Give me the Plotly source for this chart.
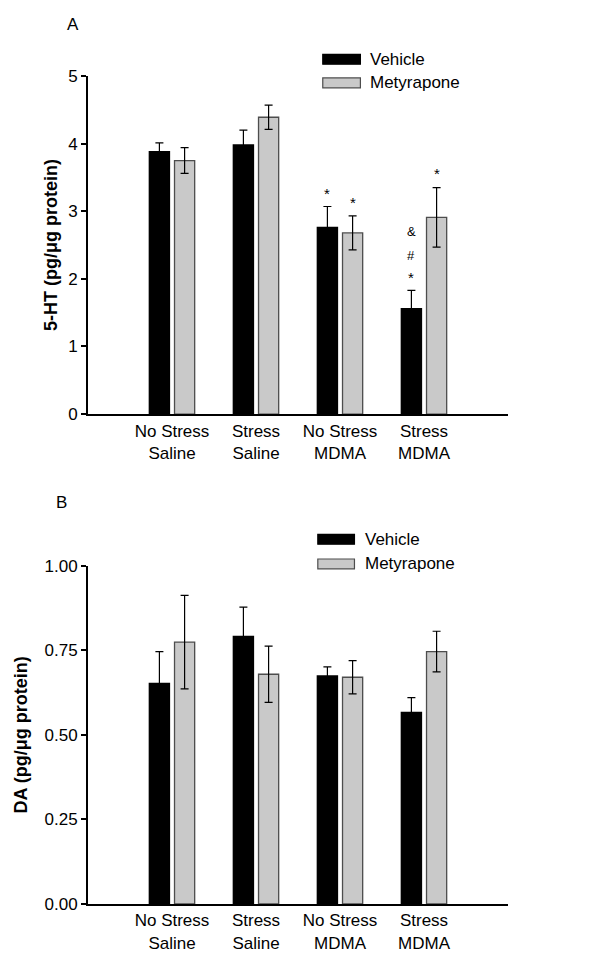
import plotly.graph_objects as go

# ---------------- data ----------------
categories = ["No Stress<br>Saline", "Stress<br>Saline", "No Stress<br>MDMA", "Stress<br>MDMA"]
series_names = ["Vehicle", "Metyrapone"]

ht_vehicle = [3.88, 3.98, 2.76, 1.56]
ht_vehicle_err = [0.13, 0.22, 0.31, 0.27]
ht_metyrapone = [3.75, 4.39, 2.68, 2.91]
ht_metyrapone_err = [0.19, 0.18, 0.25, 0.44]

da_vehicle = [0.652, 0.791, 0.674, 0.566]
da_vehicle_err = [0.094, 0.086, 0.027, 0.044]
da_metyrapone = [0.774, 0.679, 0.670, 0.746]
da_metyrapone_err = [0.138, 0.083, 0.049, 0.060]

ht_ticks = [0, 1, 2, 3, 4, 5]
da_ticks = [0.0, 0.25, 0.5, 0.75, 1.0]

# significance marks: (category index, series, text, y value)
ht_marks = [
    (2, 0, "*", 3.31),
    (2, 1, "*", 3.18),
    (3, 0, "&", 2.70),
    (3, 0, "#", 2.35),
    (3, 0, "*", 2.07),
    (3, 1, "*", 3.60),
]

# ---------------- style ----------------
FONT = "Arial, Liberation Sans, sans-serif"
OFF = 8  # default page body margin
W, H = 604 - 2 * OFF, 973 - 2 * OFF
# targets in page pixels
LEFT, RIGHT, TOP, BOTTOM = 84, 508, 76, 916
ML, MR, MT, MB = LEFT - OFF, (W + OFF) - RIGHT, TOP - OFF, (H + OFF) - BOTTOM
BAR_W = 0.24
OFFSETS = [-0.27, 0.03]
COLORS = ["#000000", "#c9c9c9"]
LINECOLORS = ["#000000", "#4d4d4d"]

xpos = list(range(len(categories)))

fig = go.Figure()


def add_bars(vals_list, errs_list, xa, ya):
    for k, (vals, errs) in enumerate(zip(vals_list, errs_list)):
        fig.add_trace(go.Bar(
            x=xpos, y=vals, name=series_names[k], width=BAR_W, offset=OFFSETS[k],
            marker=dict(color=COLORS[k], line=dict(color=LINECOLORS[k], width=1.3)),
            error_y=dict(type="data", array=errs, visible=True, color="#000000",
                         thickness=1.2, width=4),
            xaxis=xa, yaxis=ya, showlegend=False,
        ))


add_bars([ht_vehicle, ht_metyrapone], [ht_vehicle_err, ht_metyrapone_err], "x", "y")
add_bars([da_vehicle, da_metyrapone], [da_vehicle_err, da_metyrapone_err], "x2", "y2")

plot_h = BOTTOM - TOP
plot_w = RIGHT - LEFT


def py(page_y):
    return (BOTTOM - page_y) / plot_h


def px(page_x):
    return (page_x - LEFT) / plot_w


top_dom = [py(419), 1.0]
bot_dom = [0.0, py(572.7)]

xaxis_common = dict(range=[-1, 4], tickvals=xpos, ticktext=categories,
                    showline=True, linecolor="black", linewidth=2, ticks="",
                    showgrid=False, zeroline=False,
                    tickfont=dict(family=FONT, size=17, color="black"))
yaxis_common = dict(showline=True, linecolor="black", linewidth=2, ticks="outside",
                    ticklen=5, tickwidth=2, tickcolor="black", showgrid=False,
                    zeroline=False, tickfont=dict(family=FONT, size=17, color="black"))

annotations = []
# significance marks
for ci, si, txt, yv in ht_marks:
    annotations.append(dict(x=xpos[ci] + OFFSETS[si] + BAR_W / 2, y=yv, xref="x", yref="y",
                            text=txt, showarrow=False, yanchor="middle", xanchor="center",
                            yshift=-3 if txt == "*" else 0,
                            font=dict(family=FONT, size=15 if txt == "*" else 13, color="black")))

# panel labels
annotations.append(dict(x=px(69), y=py(24), xref="paper", yref="paper", text="A",
                        showarrow=False, xanchor="center", yanchor="middle",
                        font=dict(family=FONT, size=17, color="black")))
annotations.append(dict(x=px(57), y=py(509), xref="paper", yref="paper", text="B",
                        showarrow=False, xanchor="center", yanchor="middle",
                        font=dict(family=FONT, size=17, color="black")))

shapes = []


def add_legend(x0, x1, text_x, y_centers):
    for k, yc in enumerate(y_centers):
        shapes.append(dict(type="rect", xref="paper", yref="paper",
                           x0=px(x0), x1=px(x1), y0=py(yc + 5), y1=py(yc - 5),
                           fillcolor=COLORS[k], line=dict(color=LINECOLORS[k], width=1.2)))
        annotations.append(dict(x=px(text_x), y=py(yc), xref="paper", yref="paper",
                                text=series_names[k], showarrow=False, xanchor="left",
                                yanchor="middle",
                                font=dict(family=FONT, size=17, color="black")))


add_legend(321, 359, 367, [59, 83])
add_legend(316, 353, 362, [546, 571])

fig.update_layout(
    width=W, height=H,
    margin=dict(l=ML, r=MR, t=MT, b=MB),
    paper_bgcolor="white", plot_bgcolor="white",
    showlegend=False,
    xaxis=dict(domain=[0, 1], anchor="y", **xaxis_common),
    yaxis=dict(domain=top_dom, anchor="x", range=[0, 5], tickvals=ht_ticks,
               ticktext=[str(t) for t in ht_ticks],
               title=dict(text="<b>5-HT (pg/μg protein)</b>", standoff=6,
                          font=dict(family=FONT, size=18, color="black")),
               **yaxis_common),
    xaxis2=dict(domain=[0, 1], anchor="y2", **xaxis_common),
    yaxis2=dict(domain=bot_dom, anchor="x2", range=[0, 1.0], tickvals=da_ticks,
                ticktext=[f"{t:.2f}" for t in da_ticks],
                title=dict(text="<b>DA (pg/μg protein)</b>", standoff=12,
                           font=dict(family=FONT, size=18, color="black")),
                **yaxis_common),
    annotations=annotations,
    shapes=shapes,
)

fig.write_html("out.html")
